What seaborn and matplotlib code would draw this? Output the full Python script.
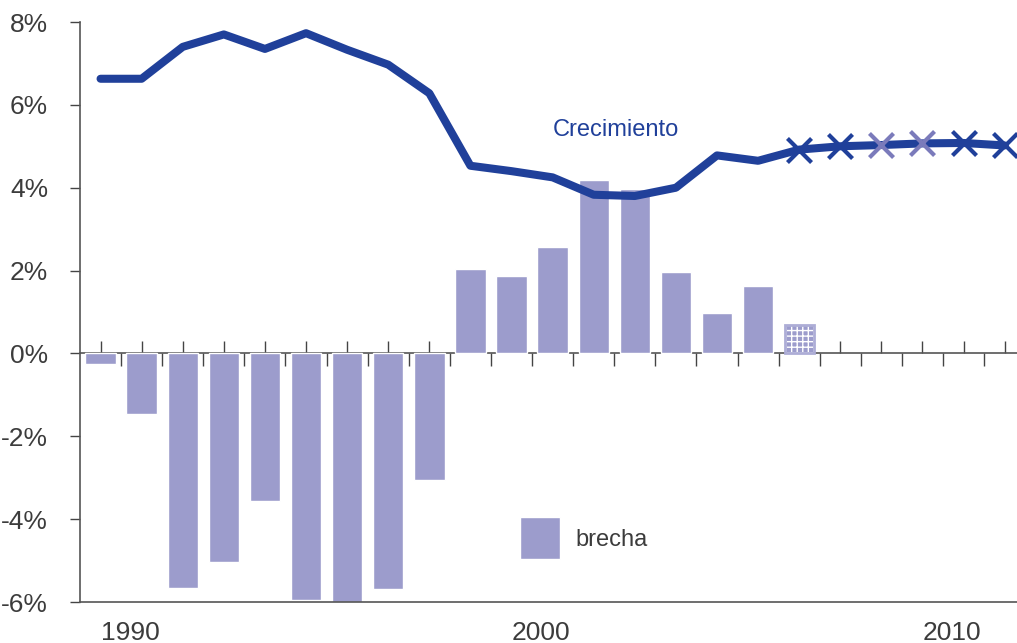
import matplotlib
matplotlib.use('Agg')
import matplotlib.pyplot as plt
from matplotlib.markers import MarkerStyle
from matplotlib.ticker import FixedLocator, FixedFormatter, NullFormatter
import numpy as np
import pandas as pd
import seaborn as sns

# datos
years = list(range(1990, 2013))
crecimiento = [6.63, 6.63, 7.40, 7.70, 7.35, 7.73, 7.33, 6.97, 6.28, 4.53, 4.40,
               4.25, 3.83, 3.80, 4.00, 4.78, 4.65, 4.92, 5.00, 5.03, 5.07, 5.08, 5.02]
brecha_years = list(range(1990, 2007))
brecha = [-0.25, -1.45, -5.65, -5.03, -3.55, -5.95, -6.0, -5.68, -3.05,
          2.05, 1.88, 2.58, 4.18, 3.97, 1.97, 0.97, 1.62]
brecha_2007 = 0.68
dark_years = [2007, 2008, 2011, 2012]
light_years = [2009, 2010]
y_ticks = [-6, -4, -2, 0, 2, 4, 6, 8]
y_labels = ['-6%', '-4%', '-2%', '0%', '2%', '4%', '6%', '8%']

BLUE = '#20409a'
BAR = '#9c9ccc'
LIGHT_X = '#7b7bbb'
INK = '#3c3c3c'

sns.set_theme(style='white')
plt.rcParams['font.family'] = ['Liberation Sans Narrow', 'Liberation Sans', 'DejaVu Sans']
plt.rcParams['hatch.linewidth'] = 1.0
plt.rcParams['hatch.color'] = 'white'

df_line = pd.DataFrame({'year': years, 'crecimiento': crecimiento}).set_index('year')

fig = plt.figure(figsize=(10.17, 6.43), dpi=100)
ax = fig.add_axes([80 / 1017, 1 - 602 / 643, 937 / 1017, 580 / 643])

# barras de brecha
sns.barplot(x=brecha_years, y=brecha, native_scale=True, color=BAR, saturation=1,
            width=0.74, ax=ax, zorder=2)
ax.bar(2007, brecha_2007, width=0.66, facecolor=BAR, edgecolor='white', hatch='+++',
       linewidth=0, zorder=2)
ax.bar(2007, brecha_2007, width=0.70, facecolor='none', edgecolor='#adadd6',
       linewidth=2.0, zorder=2)

# linea de crecimiento
sns.lineplot(x=years, y=crecimiento, color=BLUE, linewidth=5.8, ax=ax, zorder=4,
             solid_capstyle='round', solid_joinstyle='round', clip_on=False)

x_marker = MarkerStyle('x', capstyle='round')
sns.scatterplot(x=dark_years, y=df_line.loc[dark_years, 'crecimiento'].values, marker=x_marker,
                color=BLUE, s=300, linewidth=3.0, ax=ax, zorder=5, clip_on=False)
sns.scatterplot(x=light_years, y=df_line.loc[light_years, 'crecimiento'].values, marker=x_marker,
                color=LIGHT_X, s=300, linewidth=3.0, ax=ax, zorder=5, clip_on=False)

ax.set_xlim(1989.5, 2012.3)
ax.set_ylim(-6, 8)

for side in ['top', 'right']:
    ax.spines[side].set_visible(False)
for side in ['left', 'bottom']:
    ax.spines[side].set_color('#555555')
    ax.spines[side].set_linewidth(1.2)

ax.set_yticks(y_ticks)
ax.set_yticklabels(y_labels)
ax.tick_params(axis='y', length=7, width=1.0, color='#444444', direction='out', pad=16,
               labelsize=19, labelcolor=INK, left=True)
ax.set_xticks([1990, 2000, 2010])
ax.set_xticklabels(['1990', '2000', '2010'], ha='left')
ax.tick_params(axis='x', length=0, pad=14, labelsize=19, labelcolor=INK, bottom=True)
for lab in ax.get_xticklabels():
    lab.set_x(lab.get_position()[0])

# eje del cero con marcas arriba (anos) y abajo (entre anos)
zero = ax.secondary_xaxis(6 / 14)
zero.spines['bottom'].set_color('#555555')
zero.spines['bottom'].set_linewidth(1.2)
zero.xaxis.set_major_locator(FixedLocator(years))
zero.xaxis.set_major_formatter(NullFormatter())
zero.xaxis.set_minor_locator(FixedLocator(np.array(years) + 0.5))
zero.xaxis.set_minor_formatter(NullFormatter())
zero.tick_params(axis='x', which='major', direction='in', length=9, width=1.0, color='#444444', bottom=True)
zero.tick_params(axis='x', which='minor', direction='out', length=9, width=1.0, color='#444444', bottom=True)

ax.text(2002.55, 5.4, 'Crecimiento', color=BLUE, fontsize=17, ha='center', va='center')

# leyenda a mano
sns.barplot(x=[2000.7], y=[-1.0], native_scale=True, color=BAR, saturation=1, width=0.98,
            bottom=-3.95, ax=ax, zorder=2)
ax.text(2001.55, -4.5, 'brecha', color=INK, fontsize=17, ha='left', va='center')
ax.set_xlim(1989.5, 2012.3)

fig.savefig('out.png', dpi=100)
